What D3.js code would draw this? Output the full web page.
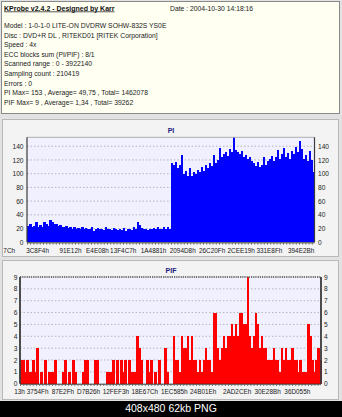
<!DOCTYPE html>
<html><head><meta charset="utf-8">
<script src="https://cdn.jsdelivr.net/npm/d3@7/dist/d3.min.js"></script>
<style>
html,body{margin:0;padding:0;background:#000;}
svg{display:block;}
text{font-family:"Liberation Sans",Arial,sans-serif;}
</style></head>
<body>
<svg id="c" width="342" height="417"></svg>
<script>
// ---------- data ----------
const headerTitle = "KProbe v2.4.2 - Designed by Karr";
const headerDate = "Date : 2004-10-30 14:18:16";
const headerLines = [
  "Model : 1-0-1-0 LITE-ON DVDRW SOHW-832S  YS0E",
  "Disc : DVD+R DL , RITEKD01 [RITEK Corporation]",
  "Speed : 4x",
  "ECC blocks sum (PI/PIF) : 8/1",
  "Scanned range : 0 - 3922140",
  "Sampling count : 210419",
  "Errors : 0",
  "PI Max= 153 , Average= 49,75 , Total= 1462078",
  "PIF Max= 9 , Average= 1,34 , Total= 39262"
];
const caption = "408x480 62kb PNG";

const piValues = [24,26,22,24,30,23,25,22,30,27,24,33,29,26,27,24,25,23,22,24,
  21,22,20,23,20,21,19,22,20,21,19,20,22,17,19,21,19,20,18,23,
  19,20,18,21,19,18,20,18,21,17,19,20,18,22,20,29,25,21,19,20,
  18,20,19,21,19,23,20,19,22,20,23,19,
  116,112,117,108,113,127,100,104,96,108,97,102,99,106,103,110,104,112,108,115,
  111,127,116,120,137,124,128,131,126,136,132,153,134,131,128,133,124,127,121,125,
  118,115,111,117,109,113,124,112,118,121,126,119,124,135,122,128,137,125,130,122,
  133,128,139,131,148,136,121,127,118,133,120,102];
const piYTicks = [0,20,40,60,80,100,120,140];
const piXLabels = ["7Ch","3C8F4h","91E12h","E4E08h","13F4C7h","1A4881h","2094D8h","26C20Fh","2CEE19h","331E8Fh","394E2Bh"];
const piXLabelAt = [-8.9,5.3,21.8,35.3,48.2,63.4,78,92.7,107.3,121.4,137.3];

const pifValues = [2,2,1,2,1,1,2,1,3,0,1,0,2,0,1,1,1,2,0,0,
  0,1,2,0,1,0,2,1,0,0,0,1,2,2,0,0,0,2,2,0,
  0,0,0,1,1,1,2,0,2,0,2,1,2,0,2,1,1,1,4,3,
  2,0,0,2,1,2,0,1,0,2,0,0,3,1,0,0,4,2,2,1,
  4,3,3,4,2,4,2,2,1,2,1,2,3,2,2,1,6,6,3,2,
  3,4,3,4,4,5,4,5,4,6,6,5,5,9,4,3,4,6,5,3,
  4,3,3,2,2,2,3,2,2,1,3,2,3,2,2,3,2,2,1,2,
  1,1,1,5,4,2,1,2,3,2];
const pifYTicks = [0,1,2,3,4,5,6,7,8,9];
const pifXLabels = ["13h","3754Fh","87E2Fh","D7B26h","12FEF3h","18E67Ch","1EC585h","24B01Eh","2AD2CEh","30E28Bh","36D055h"];
const pifXLabelAt = [-0.2,8.8,21.4,34.2,47.8,62.2,76.9,91.3,108.2,123.4,138.2];

// ---------- drawing ----------
const svg = d3.select("#c");
svg.append("rect").attr("x",0).attr("y",0).attr("width",342).attr("height",401).attr("fill","#e2e2e2");
svg.append("rect").attr("x",0).attr("y",401).attr("width",342).attr("height",16).attr("fill","#000");
svg.append("text").attr("x",171).attr("y",412).attr("text-anchor","middle")
  .attr("fill","#fff").attr("font-size",10.5).text(caption);

// header
svg.append("rect").attr("x",1.5).attr("y",1.5).attr("width",338).attr("height",112)
  .attr("fill","#fffff2").attr("stroke","#8a8a8a");
svg.append("text").attr("x",4).attr("y",10.5).attr("font-size",7).attr("font-weight","bold")
  .attr("text-decoration","underline").attr("fill","#111").text(headerTitle);
svg.append("text").attr("x",170).attr("y",10.5).attr("font-size",6.8).attr("fill","#222").text(headerDate);
svg.selectAll("text.hl").data(headerLines).enter().append("text").attr("class","hl")
  .attr("x",4).attr("y",(d,i)=>28+i*9.6).attr("font-size",6.8).attr("fill","#222").text(d=>d);

function chart(cfg){
  const g = svg.append("g");
  g.append("rect").attr("x",cfg.panel[0]).attr("y",cfg.panel[1]).attr("width",cfg.panel[2]).attr("height",cfg.panel[3])
    .attr("fill","#f3f3f3").attr("stroke","#b8b8b8");
  const x = d3.scaleLinear().domain([0,cfg.values.length]).range([cfg.left,cfg.right]);
  const y = d3.scaleLinear().domain([0,cfg.ymax]).range([cfg.bottom,cfg.top]);
  g.append("rect").attr("x",cfg.left).attr("y",cfg.top).attr("width",cfg.right-cfg.left).attr("height",cfg.bottom-cfg.top)
    .attr("fill","#f0f0ff");
  // grid
  g.selectAll("line.grid").data(cfg.yTicks.filter(t=>t>0)).enter().append("line")
    .attr("x1",cfg.left).attr("x2",cfg.right).attr("y1",d=>y(d)).attr("y2",d=>y(d))
    .attr("stroke","#a8a8a8").attr("stroke-width",0.8).attr("stroke-dasharray","1.5,2");
  // bars
  g.append("g").attr("shape-rendering","crispEdges")
    .selectAll("rect.bar").data(cfg.values).enter().append("rect")
    .attr("x",(d,i)=>x(i)).attr("width",(d,i)=>x(i+1)-x(i)+0.6)
    .attr("y",d=>y(d)).attr("height",d=>cfg.bottom-y(d)).attr("fill",cfg.color);
  // frame
  g.append("line").attr("x1",cfg.left).attr("x2",cfg.right).attr("y1",cfg.top).attr("y2",cfg.top)
    .attr("stroke",cfg.topStroke).attr("stroke-width",cfg.topWidth).attr("stroke-dasharray",cfg.topDash);
  [cfg.left,cfg.right].forEach(xx=>g.append("line").attr("x1",xx).attr("x2",xx).attr("y1",cfg.top).attr("y2",cfg.bottom)
    .attr("stroke","#3a3a3a").attr("stroke-width",cfg.sideWidth));
  g.append("line").attr("x1",cfg.left).attr("x2",cfg.right).attr("y1",cfg.bottom+0.5).attr("y2",cfg.bottom+0.5)
    .attr("stroke","#333").attr("stroke-width",1);
  g.append("line").attr("x1",cfg.left).attr("x2",cfg.right).attr("y1",cfg.bottom+1.5).attr("y2",cfg.bottom+1.5)
    .attr("stroke","#555").attr("stroke-width",1.2).attr("stroke-dasharray","1,2.2");
  // axes labels
  const yl = d3.axisLeft(y).tickValues(cfg.yTicks).tickSize(0).tickPadding(0);
  const yr = d3.axisRight(y).tickValues(cfg.yTicks).tickSize(0).tickPadding(0);
  const ga = g.append("g").attr("transform",`translate(${cfg.yLabL},0)`).call(yl);
  const gb = g.append("g").attr("transform",`translate(${cfg.yLabR},0)`).call(yr);
  [ga,gb].forEach(a=>{a.select(".domain").remove();a.selectAll("text").attr("font-size",6.6).attr("fill","#222")
     .attr("font-family","Liberation Sans, Arial, sans-serif");});
  g.selectAll("text.xl").data(cfg.xLabels).enter().append("text")
    .attr("x",(d,i)=>x(cfg.xLabelAt[i])).attr("y",cfg.xLabY).attr("text-anchor","middle")
    .attr("font-size",6.4).attr("fill","#1a1a1a").text(d=>d);
  g.append("text").attr("x",171).attr("y",cfg.titleY).attr("text-anchor","middle").attr("font-size",7)
    .attr("font-weight","bold").attr("fill","#1a1a80").text(cfg.title);
}

chart({values:piValues, ymax:153, yTicks:piYTicks, color:"#0000ff",
  left:27, right:314.5, top:137.3, bottom:242.3, panel:[2.5,119.5,336,137],
  yLabL:23.5, yLabR:318, xLabels:piXLabels, xLabelAt:piXLabelAt, xLabY:252.5, titleY:132.5, title:"PI",
  topStroke:"#b0b0b0", topWidth:1, topDash:null, sideWidth:1.2});

chart({values:pifValues, ymax:9, yTicks:pifYTicks, color:"#ff0000",
  left:20, right:321, top:277, bottom:383.7, panel:[2.5,260.5,336,139],
  yLabL:17.5, yLabR:324, xLabels:pifXLabels, xLabelAt:pifXLabelAt, xLabY:394, titleY:272.5, title:"PIF",
  topStroke:"#555", topWidth:1.5, topDash:"1.2,1", sideWidth:1.8});
</script>
</body></html>
